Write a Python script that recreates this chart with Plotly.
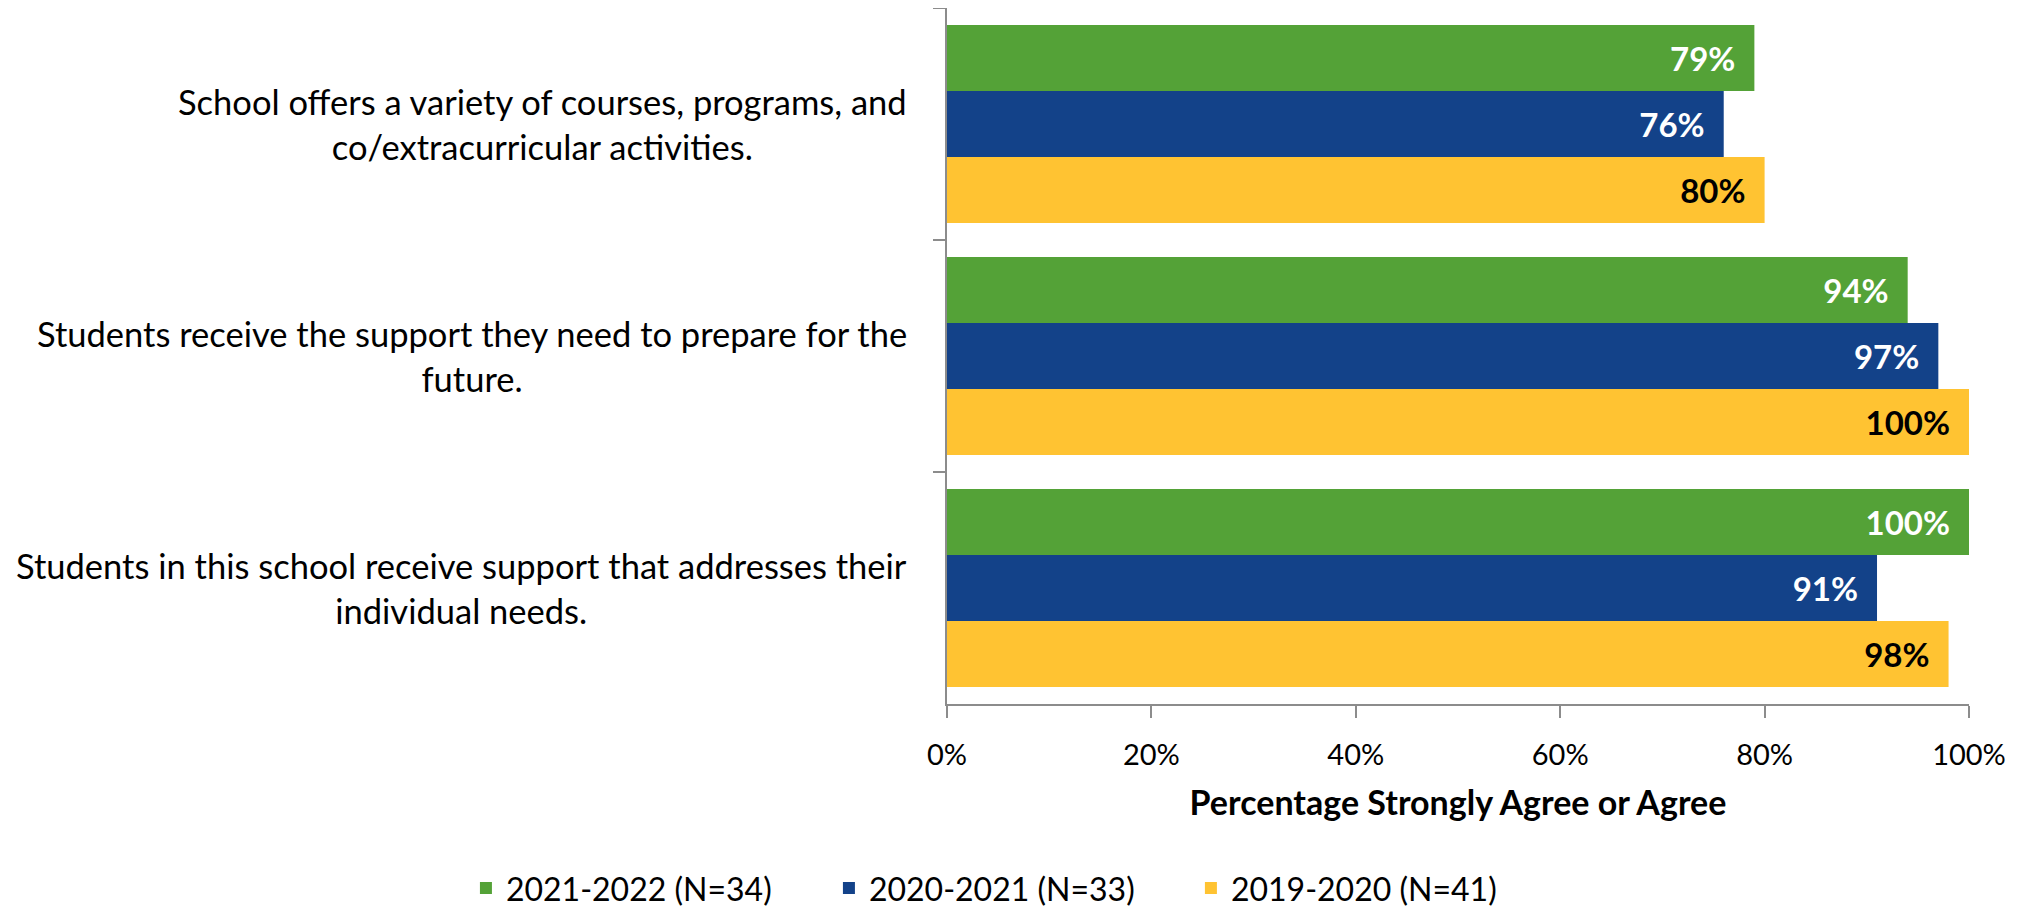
import plotly.graph_objects as go

questions = [
    "School offers a variety of courses, programs, and<br>co/extracurricular activities.",
    "Students receive the support they need to prepare for the<br>future.",
    "Students in this school receive support that addresses their<br>individual needs.",
]
series_names = ["2021-2022 (N=34)", "2020-2021 (N=33)", "2019-2020 (N=41)"]
values_2122 = [79, 94, 100]
values_2021 = [76, 97, 91]
values_1920 = [80, 100, 98]

colors = ["#54A237", "#134289", "#FFC332"]
label_colors = ["white", "white", "black"]
legend_ids = ["legend", "legend2", "legend3"]
legend_x = [0.2267, 0.4064, 0.5856]
FONT = "Lato"

fig = go.Figure()

for name, vals, col, lcol, lg in zip(series_names,
                                     [values_2122, values_2021, values_1920],
                                     colors, label_colors, legend_ids):
    fig.add_trace(go.Bar(
        y=questions,
        x=vals,
        name=name,
        orientation='h',
        legend=lg,
        marker=dict(color=col, line=dict(width=0)),
        text=[f"{v}%\u00a0\u00a0" for v in vals],
        textposition='inside',
        insidetextanchor='end',
        textangle=0,
        constraintext='none',
        textfont=dict(family=FONT, size=33, color=lcol, weight='bold'),
        hoverinfo='x+name',
    ))

# category labels, centred lines, right edge near the axis
for q in questions:
    fig.add_annotation(
        x=0, xref='paper', xshift=-38, xanchor='right',
        y=q, yref='y', yanchor='middle',
        text=q, showarrow=False, align='center',
        font=dict(family=FONT, size=34.5, color='black'),
    )

# one legend per series so the entries sit where the reference has them
legends = {}
for lg, lx in zip(legend_ids, legend_x):
    legends[lg] = dict(
        orientation='h',
        xref='container', yref='container',
        x=lx, xanchor='left',
        y=0.023, yanchor='middle',
        font=dict(family=FONT, size=32),
        itemwidth=30,
        bgcolor='rgba(0,0,0,0)',
    )

# page has an 8px body margin, so the figure is a bit smaller than the window
fig.update_layout(
    width=2020,
    height=901,
    margin=dict(l=939, r=59, t=0, b=205),
    paper_bgcolor='white',
    plot_bgcolor='white',
    barmode='group',
    bargap=0.147,
    bargroupgap=0,
    font=dict(family=FONT, color='black'),
    showlegend=True,
    **legends,
    xaxis=dict(
        range=[0, 100],
        dtick=20,
        ticksuffix='%',
        showgrid=False,
        zeroline=False,
        showline=True,
        linecolor='#8c8c8c',
        linewidth=2,
        ticks='outside',
        ticklen=12,
        tickwidth=2,
        tickcolor='#8c8c8c',
        ticklabelstandoff=12,
        tickfont=dict(family=FONT, size=29),
        title=dict(text='<b>Percentage Strongly Agree or Agree</b>',
                   font=dict(family=FONT, size=34), standoff=21),
    ),
    yaxis=dict(
        autorange='reversed',
        showticklabels=False,
        showgrid=False,
        showline=True,
        linecolor='#8c8c8c',
        linewidth=2,
        ticks='outside',
        tickson='boundaries',
        ticklen=12,
        tickwidth=2,
        tickcolor='#8c8c8c',
    ),
)

fig.write_html("out.html")
